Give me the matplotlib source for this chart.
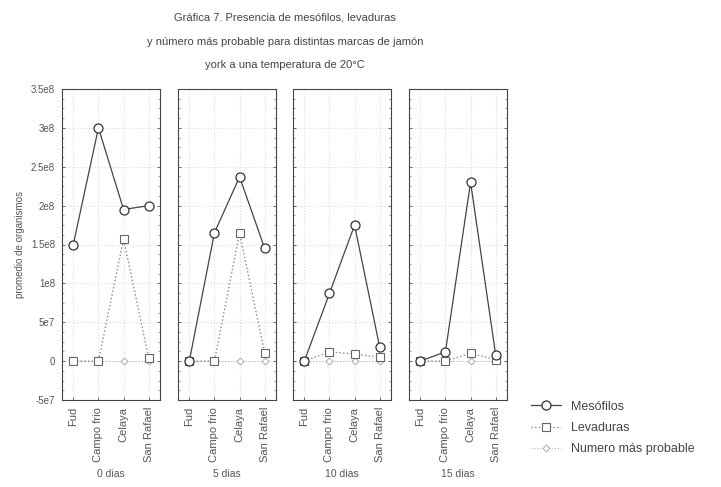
import matplotlib.pyplot as plt
import numpy as np

marcas = ['Fud', 'Campo frio', 'Celaya', 'San Rafael']
dias = ['0 dias', '5 dias', '10 dias', '15 dias']

mesofilos = [
    [1.5e8, 3.0e8, 1.95e8, 2.0e8],
    [0, 1.65e8, 2.37e8, 1.45e8],
    [0, 8.7e7, 1.75e8, 1.8e7],
    [0, 1.2e7, 2.3e8, 8e6],
]
levaduras = [
    [0, 0, 1.57e8, 4e6],
    [0, 0, 1.65e8, 1e7],
    [0, 1.2e7, 9e6, 5e6],
    [0, 0, 1e7, 2e6],
]
nmp = [
    [0, 0, 0, 0],
    [0, 0, 0, 0],
    [0, 0, 0, 0],
    [0, 0, 0, 0],
]

plt.rcParams['font.family'] = ['Liberation Sans', 'DejaVu Sans']
fig = plt.figure(figsize=(7.21, 4.87), dpi=100)

W, H = 721, 487
lefts = [62, 178, 293, 409]
pw = 98
top, bottom = 89, 400
x = np.arange(len(marcas))
yticks = [-5e7, 0, 5e7, 1e8, 1.5e8, 2e8, 2.5e8, 3e8, 3.5e8]
ylabels = ['-5e7', '0', '5e7', '1e8', '1.5e8', '2e8', '2.5e8', '3e8', '3.5e8']

for i in range(4):
    ax = fig.add_axes([lefts[i] / W, 1 - bottom / H, pw / W, (bottom - top) / H])
    l1, = ax.plot(x, mesofilos[i], '-', color='#444444', lw=0.9, marker='o',
                  ms=6.5, mfc='white', mec='#333333', mew=0.9, zorder=4)
    l2, = ax.plot(x, levaduras[i], ':', color='#888888', lw=1.0, marker='s',
                  ms=5.5, mfc='white', mec='#666666', mew=0.8, zorder=3)
    l3, = ax.plot(x, nmp[i], ':', color='#bbbbbb', lw=0.8, marker='D',
                  ms=3.5, mfc='white', mec='#aaaaaa', mew=0.7, zorder=2)
    ax.set_xlim(-0.45, 3.45)
    ax.set_ylim(-5e7, 3.5e8)
    ax.set_xticks(x)
    ax.set_xticklabels(marcas, rotation=90, fontsize=8, color='#555555')
    ax.set_yticks(yticks)
    ax.set_yticks(np.arange(-5e7, 3.5e8, 1.25e7), minor=True)
    ax.grid(True, ls=':', color='#dddddd', lw=0.8)
    ax.tick_params(direction='in', length=2, color='#555555', width=0.6, pad=5)
    ax.tick_params(which='minor', direction='in', length=1.5, color='#777777',
                   width=0.5, left=True, right=True)
    ax.tick_params(axis='y', right=True)
    ax.set_xlabel(dias[i], fontsize=7.5, color='#555555', labelpad=5)
    for s in ax.spines.values():
        s.set_linewidth(0.8)
        s.set_color('#444444')
    if i == 0:
        ax.set_yticklabels(ylabels, fontsize=7, color='#555555')
        ax.set_ylabel('promedio de organismos', fontsize=7, color='#555555')
    else:
        ax.set_yticklabels([])

fig.legend([l1, l2, l3], ['Mesófilos', 'Levaduras', 'Numero más probable'],
           loc='center left', bbox_to_anchor=(520 / W, 1 - 428 / H),
           frameon=False, fontsize=9, handlelength=2.4, labelspacing=0.75,
           labelcolor='#444444')

fig.text(285 / W, 1 - 18 / H, 'Gráfica 7. Presencia de mesófilos, levaduras',
         ha='center', va='center', fontsize=8, color='#444444')
fig.text(285 / W, 1 - 42 / H, 'y número más probable para distintas marcas de jamón',
         ha='center', va='center', fontsize=8, color='#444444')
fig.text(285 / W, 1 - 65 / H, 'york a una temperatura de 20°C',
         ha='center', va='center', fontsize=8, color='#444444')

fig.savefig('out.png', dpi=100)
